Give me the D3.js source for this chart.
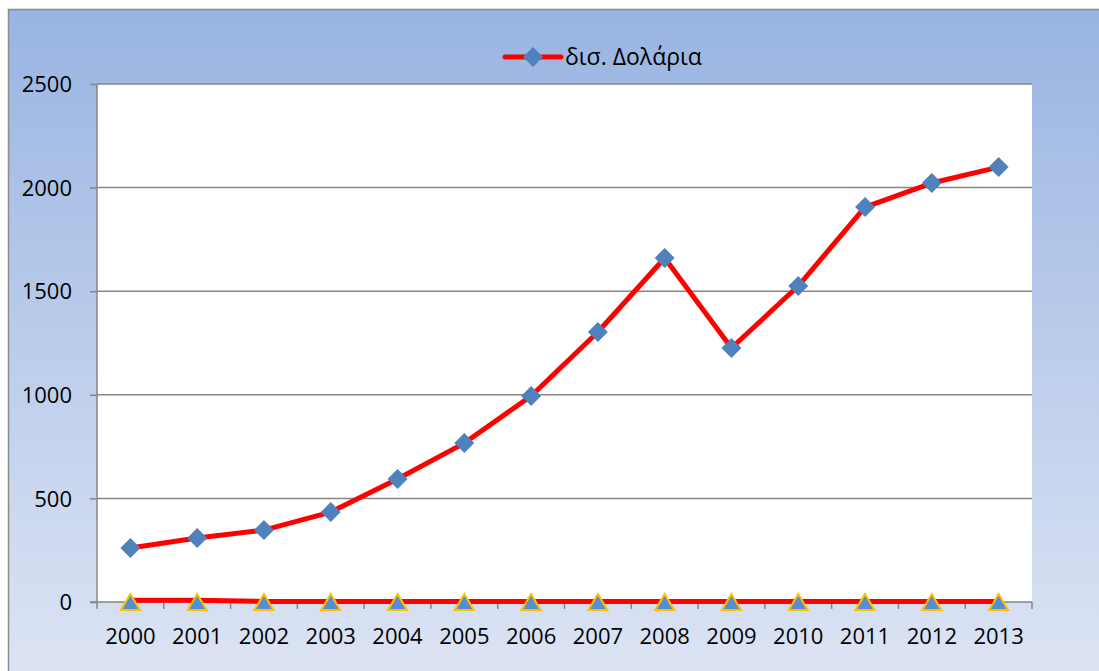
<!DOCTYPE html>
<html>
<head>
<meta charset="utf-8">
<script src="https://cdn.jsdelivr.net/npm/d3@7"></script>
<style>
  body { margin: 0; overflow: hidden; }
  svg text { font-family: "Open Sans", sans-serif; fill: #000; }
</style>
</head>
<body>
<script>
(function () {
    var years = ["2000", "2001", "2002", "2003", "2004", "2005", "2006",
                 "2007", "2008", "2009", "2010", "2011", "2012", "2013"];
    var dollars = [261, 309, 347, 434, 594, 767, 994, 1303, 1660, 1226, 1525, 1906, 2022, 2099];
    var second = [9, 9, 3, 2, 2, 2, 2, 2, 2, 2, 2, 2, 2, 2];
    var yTicks = [0, 500, 1000, 1500, 2000, 2500];
    var legendLabel = "δισ. Δολάρια";

    var W = 1099, H = 671;
    var margin = { top: 84, right: 67, bottom: 69, left: 97 };
    var width = W - margin.left - margin.right;
    var height = H - margin.top - margin.bottom;

    var svg = d3.select("body").append("svg")
        .attr("width", W)
        .attr("height", H);

    var grad = svg.append("defs").append("linearGradient")
        .attr("id", "bg")
        .attr("x1", 0).attr("y1", 0).attr("x2", 0).attr("y2", 1);
    grad.append("stop").attr("offset", "0%").attr("stop-color", "#99b4e2");
    grad.append("stop").attr("offset", "100%").attr("stop-color", "#dfe6f4");

    svg.append("rect")
        .attr("x", 8.5).attr("y", 9.5)
        .attr("width", W + 20).attr("height", H + 20)
        .attr("fill", "url(#bg)")
        .attr("stroke", "#8c8c8c")
        .attr("stroke-width", 1.5);

    var g = svg.append("g")
        .attr("transform", "translate(" + margin.left + "," + margin.top + ")");

    var x = d3.scaleBand().domain(years).range([0, width]);
    var y = d3.scaleLinear().domain([0, 2500]).range([height, 0]);
    var cx = function (d, i) { return x(years[i]) + x.bandwidth() / 2; };

    g.append("rect")
        .attr("width", width).attr("height", height)
        .attr("fill", "#fff");

    // gridlines
    g.selectAll(".grid").data(yTicks.filter(function (t) { return t > 0; }))
        .enter().append("line")
        .attr("x1", 0).attr("x2", width)
        .attr("y1", function (d) { return y(d); })
        .attr("y2", function (d) { return y(d); })
        .attr("stroke", "#868686")
        .attr("stroke-width", 1.5);

    var yAxis = d3.axisLeft(y).tickValues(yTicks).tickFormat(d3.format("d"))
        .tickSize(7).tickPadding(18);
    var yg = g.append("g").call(yAxis);
    yg.select(".domain").attr("stroke", "#868686").attr("stroke-width", 1.5)
        .attr("d", "M0," + height + "V0");
    yg.selectAll(".tick line").attr("stroke", "#868686").attr("stroke-width", 1.5);
    yg.selectAll("text").style("font-size", "22px").attr("dy", "0.35em");

    var xg = g.append("g").attr("transform", "translate(0," + height + ")");
    xg.append("line")
        .attr("x1", -7).attr("x2", width)
        .attr("stroke", "#868686").attr("stroke-width", 1.5);
    xg.selectAll(".xt").data(d3.range(years.length + 1))
        .enter().append("line")
        .attr("x1", function (i) { return i * x.step(); })
        .attr("x2", function (i) { return i * x.step(); })
        .attr("y1", 0).attr("y2", 7)
        .attr("stroke", "#868686").attr("stroke-width", 1.5);
    xg.selectAll(".xl").data(years)
        .enter().append("text")
        .attr("x", function (d) { return x(d) + x.bandwidth() / 2; })
        .attr("y", 42)
        .attr("text-anchor", "middle")
        .style("font-size", "22px")
        .text(function (d) { return d; });

    var line = d3.line()
        .x(cx)
        .y(function (d) { return y(d); });

    g.append("path").datum(second)
        .attr("d", line)
        .attr("fill", "none")
        .attr("stroke", "#ff0000")
        .attr("stroke-width", 5)
        .attr("stroke-linejoin", "round");

    g.append("path").datum(dollars)
        .attr("d", line)
        .attr("fill", "none")
        .attr("stroke", "#ff0000")
        .attr("stroke-width", 5)
        .attr("stroke-linejoin", "round");

    var diamond = "M0,-10L10,0L0,10L-10,0Z";
    g.selectAll(".dm").data(dollars)
        .enter().append("path")
        .attr("d", diamond)
        .attr("fill", "#4f81bd")
        .attr("transform", function (d, i) { return "translate(" + cx(d, i) + "," + y(d) + ")"; });

    var tri = "M0,-16L9.5,0L-9.5,0Z";
    g.selectAll(".tr").data(second)
        .enter().append("path")
        .attr("d", tri)
        .attr("fill", "#558ed5")
        .attr("stroke", "#ffc000")
        .attr("stroke-width", 2)
        .attr("stroke-linejoin", "miter")
        .attr("transform", function (d, i) { return "translate(" + cx(d, i) + "," + (height + 8) + ")"; });

    // legend
    var lg = svg.append("g").attr("transform", "translate(505,57)");
    lg.append("line")
        .attr("x1", 0).attr("x2", 56)
        .attr("stroke", "#ff0000").attr("stroke-width", 5)
        .attr("stroke-linecap", "round");
    lg.append("path").attr("d", diamond)
        .attr("fill", "#4f81bd")
        .attr("transform", "translate(28,0)");
    lg.append("text")
        .attr("x", 60).attr("y", 0).attr("dy", "0.35em")
        .style("font-size", "23px")
        .text(legendLabel);
})();
</script>
</body>
</html>
